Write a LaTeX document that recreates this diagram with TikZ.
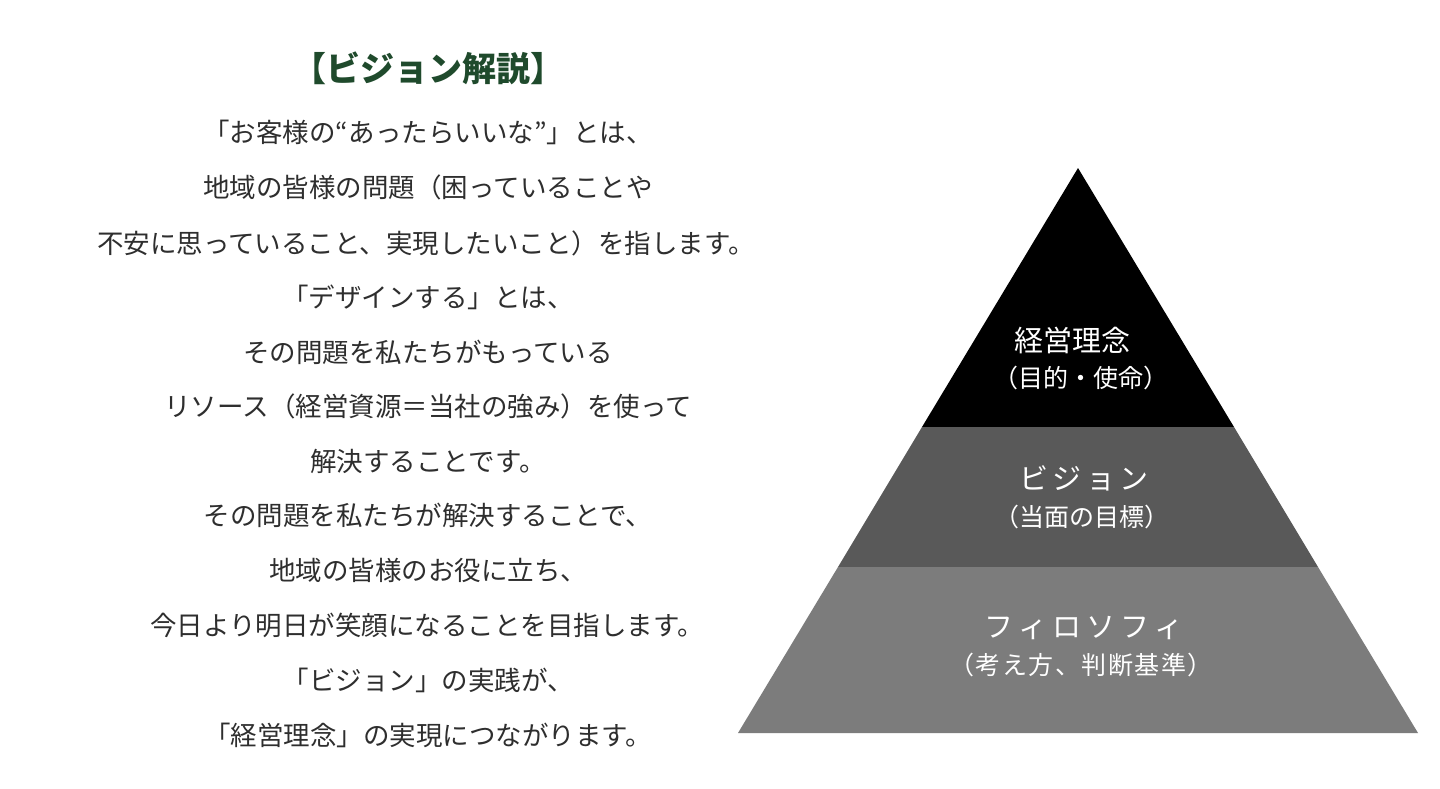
\documentclass[tikz,border=0pt]{standalone}
\usepackage{fontspec}
\newfontfamily\jp{Noto Sans CJK JP}
\definecolor{titlegreen}{HTML}{1F4A2C}
\definecolor{bodygray}{HTML}{2E2E2E}
\definecolor{midgray}{HTML}{595959}
\definecolor{lowgray}{HTML}{7C7C7C}
\tikzset{
  body/.style={anchor=center, inner sep=0pt, text=bodygray, font=\jp\fontsize{26.5}{26.5}\selectfont},
  title/.style={anchor=center, inner sep=0pt, text=titlegreen, font=\jp\bfseries\fontsize{34}{34}\selectfont},
  tiername/.style={anchor=center, inner sep=0pt, text=white, font=\jp\fontsize{29}{29}\selectfont},
  tiersub/.style={anchor=center, inner sep=0pt, text=white, font=\jp\fontsize{25}{25}\selectfont},
}
\begin{document}
\begin{tikzpicture}[x=1pt,y=-1pt]
\useasboundingbox[fill=white] (0,0) rectangle (1440,789);
% pyramid
\coordinate (apex) at (1078,168);
\coordinate (l1) at (922,427);
\coordinate (r1) at (1234,427);
\coordinate (l2) at (838,567);
\coordinate (r2) at (1318,567);
\coordinate (bl) at (738,733);
\coordinate (br) at (1418,733);
\fill[black] (apex) -- (r1) -- (l1) -- cycle;
\fill[midgray] (l1) -- (r1) -- (r2) -- (l2) -- cycle;
\fill[lowgray] (l2) -- (r2) -- (br) -- (bl) -- cycle;
% pyramid labels
\node[tiername] (t1) at (1072,340) {経営理念};
\node[tiersub] (s1) at (1081,378) {（目的・使命）};
\node[tiername] (t2) at (1084,478) {\addfontfeature{LetterSpace=15}ビジョン};
\node[tiersub] (s2) at (1082,517) {（当面の目標）};
\node[tiername] (t3) at (1084,628) {\addfontfeature{LetterSpace=18}フィロソフィ};
\node[tiersub] (s3) at (1081,665) {\addfontfeature{LetterSpace=6}（考え方、判断基準）};
% left text
\node[title] (ttl) at (428,68) {【ビジョン解説】};
\node[body] (b1) at (428,132) {「お客様の“あったらいいな”」とは、};
\node[body] (b2) at (428,187) {地域の皆様の問題（困っていることや};
\node[body] (b3) at (426,243) {不安に思っていること、実現したいこと）を指します。};
\node[body] (b4) at (428,297) {「デザインする」とは、};
\node[body] (b5) at (428,352) {その問題を私たちがもっている};
\node[body] (b6) at (428,406) {リソース（経営資源＝当社の強み）を使って};
\node[body] (b7) at (428,461) {解決することです。};
\node[body] (b8) at (428,515) {その問題を私たちが解決することで、};
\node[body] (b9) at (428,570) {地域の皆様のお役に立ち、};
\node[body] (b10) at (427,625) {今日より明日が笑顔になることを目指します。};
\node[body] (b11) at (428,680) {「ビジョン」の実践が、};
\node[body] (b12) at (428,735) {「経営理念」の実現につながります。};
\end{tikzpicture}
\end{document}
